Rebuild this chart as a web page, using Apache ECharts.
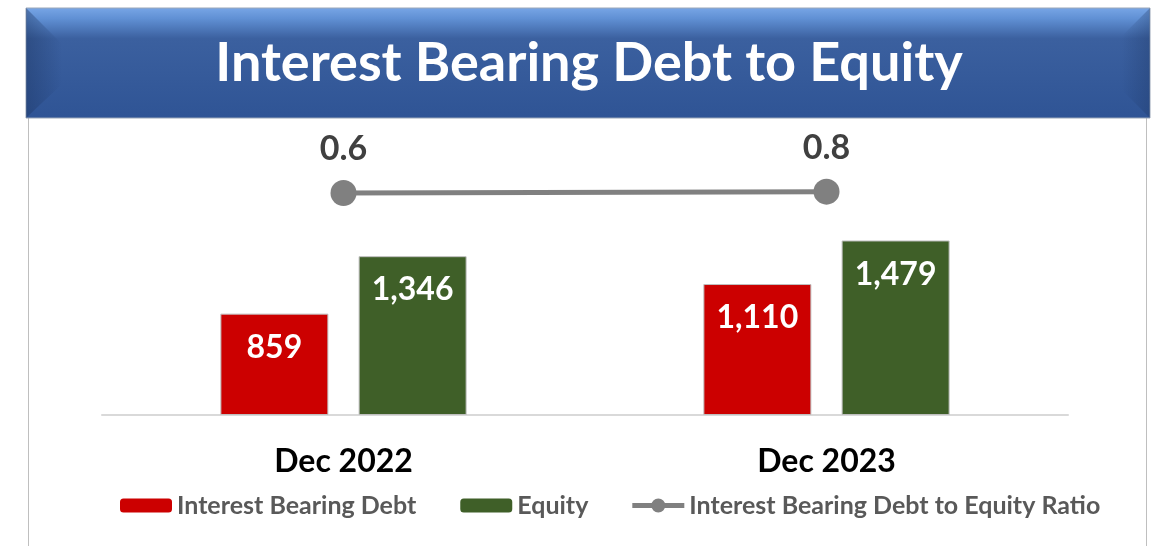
<!DOCTYPE html>
<html>
<head>
<meta charset="utf-8">
<script src="https://cdn.jsdelivr.net/npm/echarts@6/dist/echarts.min.js"></script>
<style>
  html, body { margin: 0; padding: 0; background: #ffffff; }
  #chart { width: 1157px; height: 546px; }
</style>
</head>
<body>
<div id="chart"></div>
<script>
// Period labels on the category axis
const periods = ['Dec 2022', 'Dec 2023'];
// Balance sheet amounts
const interestBearingDebt = [859, 1110];
const equity = [1346, 1479];
// Debt to equity ratio
const debtToEquityRatio = [0.6, 0.8];

const titleText = 'Interest Bearing Debt to Equity';
const FONT = 'Lato, "Open Sans", "Noto Sans", sans-serif';

// legend glyph for the ratio line: a thick stroke with a dot in the middle
const LINE_DOT_ICON = 'path://M0,4.5 H52 V9.5 H0 Z M19,7 A7,7 0 1 1 33,7 A7,7 0 1 1 19,7 Z';

const chart = echarts.init(document.getElementById('chart'), null, { renderer: 'canvas' });

const fmt = v => v.toLocaleString('en-US');

chart.setOption({
  backgroundColor: '#ffffff',
  animation: false,
  textStyle: { fontFamily: FONT },
  graphic: [
    // side borders of the panel
    { type: 'line', shape: { x1: 28.5, y1: 118, x2: 28.5, y2: 546 }, style: { stroke: '#bfbfbf', lineWidth: 1 } },
    { type: 'line', shape: { x1: 1146.5, y1: 118, x2: 1146.5, y2: 546 }, style: { stroke: '#bfbfbf', lineWidth: 1 } },
    // title banner
    {
      type: 'rect', shape: { x: 26, y: 8, width: 1124, height: 110 },
      style: {
        fill: new echarts.graphic.LinearGradient(0, 0, 0, 1, [
          { offset: 0, color: '#78a6e6' },
          { offset: 0.1, color: '#6090d4' },
          { offset: 0.28, color: '#3b609f' },
          { offset: 1, color: '#2f5495' }
        ]),
        stroke: '#9aa6b8', lineWidth: 1
      }
    },
    // left bevel
    {
      type: 'polygon', shape: { points: [[26, 8], [62, 44], [62, 84], [26, 118]] },
      style: {
        fill: new echarts.graphic.LinearGradient(0, 0, 1, 0, [
          { offset: 0, color: 'rgba(30,55,100,0.45)' },
          { offset: 1, color: 'rgba(30,55,100,0)' }
        ])
      }
    },
    // right bevel
    {
      type: 'polygon', shape: { points: [[1150, 8], [1122, 36], [1122, 90], [1150, 118]] },
      style: {
        fill: new echarts.graphic.LinearGradient(1, 0, 0, 0, [
          { offset: 0, color: 'rgba(30,55,100,0.35)' },
          { offset: 1, color: 'rgba(30,55,100,0)' }
        ])
      }
    },
    {
      type: 'text', x: 589, y: 64,
      style: {
        text: titleText, fill: '#ffffff',
        font: 'bold 54px ' + FONT,
        textAlign: 'center', textVerticalAlign: 'middle'
      }
    }
  ],
  legend: {
    left: 120, top: 493, padding: 0,
    itemWidth: 52, itemHeight: 14, itemGap: 44,
    itemStyle: { borderWidth: 0 },
    textStyle: { fontSize: 25, fontWeight: 'bold', color: '#595959', fontFamily: FONT },
    data: [
      'Interest Bearing Debt',
      'Equity',
      { name: 'Interest Bearing Debt to Equity Ratio', icon: LINE_DOT_ICON }
    ]
  },
  grid: { left: 102, right: 89, top: 120, bottom: 131 },
  xAxis: {
    type: 'category',
    data: periods,
    axisLine: { lineStyle: { color: '#d9d9d9', width: 2 } },
    axisTick: { show: false },
    axisLabel: { margin: 31, fontSize: 32, fontWeight: 'bold', color: '#000000', fontFamily: FONT }
  },
  yAxis: [
    { type: 'value', min: 0, max: 2500, show: false, splitLine: { show: false } },
    { type: 'value', min: -31, max: 11, show: false, splitLine: { show: false } }
  ],
  series: [
    {
      name: 'Interest Bearing Debt', type: 'bar', data: interestBearingDebt,
      barWidth: 108, barGap: '28%',
      itemStyle: { color: '#cc0000', borderColor: '#bfbfbf', borderWidth: 1 },
      label: {
        show: true, position: 'insideTop', distance: 18, formatter: p => fmt(p.value),
        fontSize: 32, fontWeight: 'bold', color: '#ffffff', fontFamily: FONT
      }
    },
    {
      name: 'Equity', type: 'bar', data: equity,
      barWidth: 108,
      itemStyle: { color: '#3f5f28', borderColor: '#bfbfbf', borderWidth: 1 },
      label: {
        show: true, position: 'insideTop', distance: 18, formatter: p => fmt(p.value),
        fontSize: 32, fontWeight: 'bold', color: '#ffffff', fontFamily: FONT
      }
    },
    {
      name: 'Interest Bearing Debt to Equity Ratio', type: 'line', yAxisIndex: 1,
      data: debtToEquityRatio,
      symbol: 'circle', symbolSize: 26,
      lineStyle: { color: '#808080', width: 5 },
      itemStyle: { color: '#808080' },
      label: {
        show: true, position: 'top', distance: 14, formatter: p => p.value.toFixed(1),
        fontSize: 34, fontWeight: 'bold', color: '#404040', fontFamily: FONT
      },
      z: 5
    }
  ]
});
</script>
</body>
</html>
